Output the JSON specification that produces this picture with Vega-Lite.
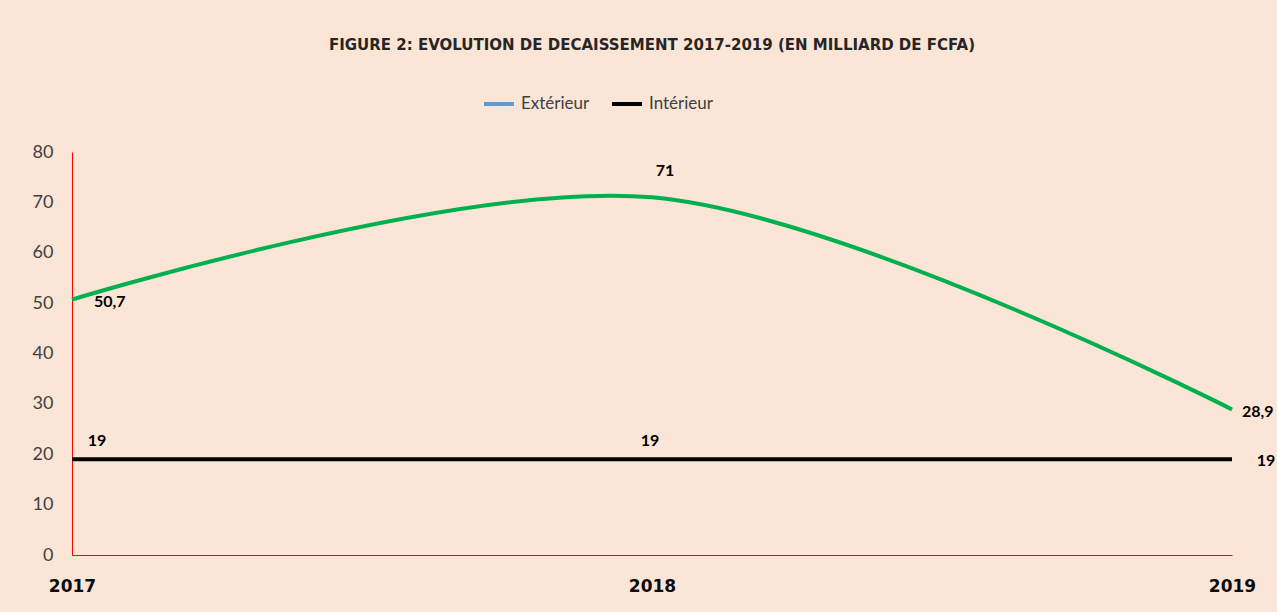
{
  "$schema": "https://vega.github.io/schema/vega-lite/v6.json",
  "width": 1160,
  "height": 403,
  "autosize": "none",
  "padding": {"left": 72, "top": 152, "right": 45, "bottom": 57},
  "background": "#FBE5D6",
  "title": {
    "text": "FIGURE 2: EVOLUTION DE DECAISSEMENT 2017-2019 (EN MILLIARD DE FCFA)",
    "font": "DejaVu Sans",
    "fontSize": 15,
    "fontWeight": "bold",
    "color": "#262626",
    "anchor": "middle",
    "offset": 34
  },
  "config": {
    "view": {"stroke": null},
    "font": "Lato"
  },
  "data": {
    "values": [
      {"year": "2017", "serie": "Extérieur", "value": 50.7, "label": "50,7"},
      {"year": "2018", "serie": "Extérieur", "value": 71, "label": "71"},
      {"year": "2019", "serie": "Extérieur", "value": 28.9, "label": "28,9"},
      {"year": "2017", "serie": "Intérieur", "value": 19, "label": "19"},
      {"year": "2018", "serie": "Intérieur", "value": 19, "label": "19"},
      {"year": "2019", "serie": "Intérieur", "value": 19, "label": "19"}
    ]
  },
  "encoding": {
    "x": {
      "field": "year",
      "type": "ordinal",
      "scale": {"type": "point", "padding": 0},
      "axis": {
        "title": null,
        "labelAngle": 0,
        "domainColor": "#FF0000",
        "domainWidth": 1,
        "ticks": false,
        "labelFont": "DejaVu Sans",
        "labelFontSize": 17,
        "labelFontWeight": "bold",
        "labelColor": "#0D0D0D",
        "labelPadding": 23,
        "grid": false
      }
    },
    "y": {
      "field": "value",
      "type": "quantitative",
      "scale": {"domain": [0, 80], "nice": false},
      "axis": {
        "title": null,
        "values": [0, 10, 20, 30, 40, 50, 60, 70, 80],
        "domainColor": "#FF0000",
        "domainWidth": 1,
        "ticks": false,
        "grid": false,
        "labelFont": "Lato",
        "labelFontSize": 18,
        "labelColor": "#404040",
        "labelPadding": 19
      }
    }
  },
  "layer": [
    {
      "mark": {"type": "line", "opacity": 0},
      "encoding": {
        "color": {
          "field": "serie",
          "type": "nominal",
          "scale": {"domain": ["Extérieur", "Intérieur"], "range": ["#5B9BD5", "#000000"]},
          "legend": {
            "title": null,
            "orient": "none",
            "direction": "horizontal",
            "legendX": 410,
            "legendY": -65,
            "symbolType": "stroke",
            "symbolSize": 900,
            "symbolStrokeWidth": 4,
            "symbolOpacity": 1,
            "labelFont": "Lato",
            "labelFontSize": 17,
            "labelColor": "#404040",
            "columnPadding": 14,
            "labelOffset": 5
          }
        }
      }
    },
    {
      "mark": {"type": "line", "interpolate": "catmull-rom", "strokeWidth": 4},
      "encoding": {
        "detail": {"field": "serie"},
        "stroke": {
          "condition": {"test": "datum.serie === 'Extérieur'", "value": "#00B050"},
          "value": "#000000"
        }
      }
    },
    {
      "transform": [{"filter": "datum.serie === 'Extérieur' && datum.year === '2017'"}],
      "mark": {"type": "text", "align": "left", "dx": 22, "dy": 2, "fontSize": 16, "fontWeight": "bold", "font": "Lato", "color": "#000000"},
      "encoding": {"text": {"field": "label"}}
    },
    {
      "transform": [{"filter": "datum.serie === 'Extérieur' && datum.year === '2018'"}],
      "mark": {"type": "text", "align": "center", "dx": 13, "dy": -26, "fontSize": 16, "fontWeight": "bold", "font": "Lato", "color": "#000000"},
      "encoding": {"text": {"field": "label"}}
    },
    {
      "transform": [{"filter": "datum.serie === 'Extérieur' && datum.year === '2019'"}],
      "mark": {"type": "text", "align": "left", "dx": 10, "dy": 3, "fontSize": 16, "fontWeight": "bold", "font": "Lato", "color": "#000000"},
      "encoding": {"text": {"field": "label"}}
    },
    {
      "transform": [{"filter": "datum.serie === 'Intérieur' && datum.year === '2017'"}],
      "mark": {"type": "text", "align": "center", "dx": 25, "dy": -18, "fontSize": 16, "fontWeight": "bold", "font": "Lato", "color": "#000000"},
      "encoding": {"text": {"field": "label"}}
    },
    {
      "transform": [{"filter": "datum.serie === 'Intérieur' && datum.year === '2018'"}],
      "mark": {"type": "text", "align": "center", "dx": -2, "dy": -18, "fontSize": 16, "fontWeight": "bold", "font": "Lato", "color": "#000000"},
      "encoding": {"text": {"field": "label"}}
    },
    {
      "transform": [{"filter": "datum.serie === 'Intérieur' && datum.year === '2019'"}],
      "mark": {"type": "text", "align": "center", "dx": 34, "dy": 2, "fontSize": 16, "fontWeight": "bold", "font": "Lato", "color": "#000000"},
      "encoding": {"text": {"field": "label"}}
    }
  ]
}
